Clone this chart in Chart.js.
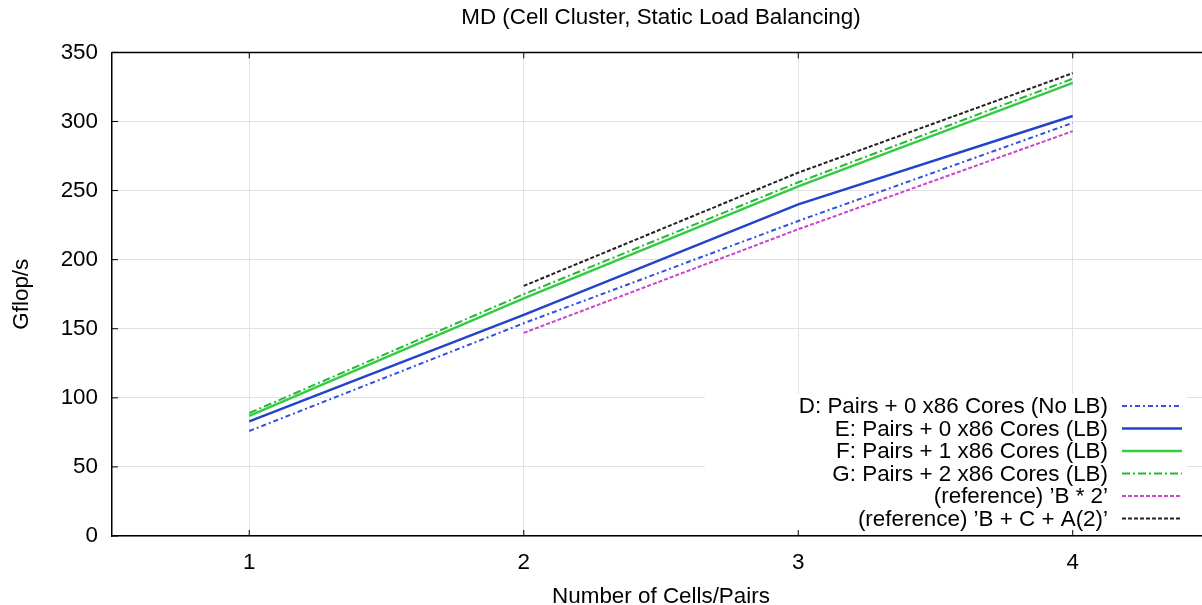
<!DOCTYPE html>
<html>
<head>
<meta charset="utf-8">
<script src="https://cdn.jsdelivr.net/npm/chart.js@4"></script>
<style>
  html, body { margin: 0; padding: 0; overflow: hidden; background: #fff; }
  canvas { display: block; }
</style>
</head>
<body>
<canvas id="mdChart" width="1210" height="612"></canvas>
<script>
// data
const cells = ['1', '2', '3', '4'];
const pairsNoLB = [76, 154, 228, 299];
const pairsLB = [83, 160, 240, 304];
const pairs1x86 = [87, 172, 253, 328];
const pairs2x86 = [89, 175, 256, 331];
const refB2 = [null, 147, 222, 293];
const refBCA2 = [null, 181, 263, 335];
const yTicks = [0, 50, 100, 150, 200, 250, 300, 350];

Chart.defaults.font.family = "'Liberation Sans', Arial, sans-serif";
Chart.defaults.font.size = 22.4;
Chart.defaults.color = '#000';

// gnuplot style frame: top border, inward tick marks, legend box inside plot
const gnuplotFrame = {
    id: 'gnuplotFrame',
    afterDatasetsDraw(chart) {
        const ctx = chart.ctx;
        const area = chart.chartArea;
        const x = chart.scales.x;
        const y = chart.scales.y;
        ctx.save();

        // top border
        ctx.strokeStyle = '#000';
        ctx.lineWidth = 1.5;
        ctx.beginPath();
        ctx.moveTo(area.left, area.top);
        ctx.lineTo(area.right, area.top);
        ctx.stroke();

        // tick marks
        ctx.lineWidth = 1;
        ctx.beginPath();
        yTicks.forEach(v => {
            const py = y.getPixelForValue(v);
            ctx.moveTo(area.left, py);
            ctx.lineTo(area.left + 6, py);
        });
        cells.forEach((c, i) => {
            const px = x.getPixelForValue(i);
            ctx.moveTo(px, area.bottom);
            ctx.lineTo(px, area.bottom - 6);
            ctx.moveTo(px, area.top);
            ctx.lineTo(px, area.top + 6);
        });
        ctx.stroke();

        // legend
        ctx.fillStyle = '#fff';
        ctx.fillRect(705, 394, 482, 136);
        ctx.font = "22.4px 'Liberation Sans', Arial, sans-serif";
        ctx.textAlign = 'right';
        ctx.textBaseline = 'middle';
        chart.data.datasets.forEach((ds, i) => {
            const rowY = 406 + i * 22.5;
            ctx.fillStyle = '#000';
            ctx.fillText(ds.label, 1108, rowY + 1);
            ctx.strokeStyle = ds.borderColor;
            ctx.lineWidth = ds.borderWidth;
            ctx.setLineDash(ds.borderDash || []);
            ctx.beginPath();
            ctx.moveTo(1122, rowY);
            ctx.lineTo(1182, rowY);
            ctx.stroke();
        });
        ctx.restore();
    }
};

function series(label, data, color, width, dash) {
    return {
        label: label,
        data: data,
        borderColor: color,
        backgroundColor: color,
        borderWidth: width,
        borderDash: dash,
        pointRadius: 0,
        tension: 0,
        fill: false
    };
}

const ctx = document.getElementById('mdChart').getContext('2d');
new Chart(ctx, {
    type: 'line',
    data: {
        labels: cells,
        datasets: [
            series('D: Pairs + 0 x86 Cores (No LB)', pairsNoLB, '#3350e0', 2, [5, 3, 2, 3]),
            series('E: Pairs + 0 x86 Cores (LB)', pairsLB, '#2244cc', 2.5, []),
            series('F: Pairs + 1 x86 Cores (LB)', pairs1x86, '#33cc44', 2.5, []),
            series('G: Pairs + 2 x86 Cores (LB)', pairs2x86, '#22bb33', 2, [8, 3, 2, 3]),
            series('(reference) \u2019B * 2\u2019', refB2, '#cc44cc', 2, [4, 2]),
            series('(reference) \u2019B + C + A(2)\u2019', refBCA2, '#222222', 2, [4, 2])
        ]
    },
    options: {
        responsive: false,
        animation: false,
        layout: { padding: 0 },
        plugins: {
            legend: { display: false },
            tooltip: { enabled: false },
            title: {
                display: true,
                text: 'MD (Cell Cluster, Static Load Balancing)',
                fullSize: false,
                font: { size: 22.4, weight: 'normal', lineHeight: 1 },
                padding: { top: 6.5, bottom: 23.5 }
            }
        },
        scales: {
            x: {
                type: 'category',
                offset: true,
                grid: { offset: false, color: '#e2e2e2', drawTicks: false },
                border: { color: '#000', width: 1.5 },
                ticks: { padding: 13 },
                title: {
                    display: true,
                    text: 'Number of Cells/Pairs',
                    font: { size: 22.4, lineHeight: 1 },
                    padding: { top: 0, bottom: 4 }
                },
                afterFit(scale) { scale.height = 76; }
            },
            y: {
                min: 0,
                max: 350,
                afterBuildTicks(scale) { scale.ticks = yTicks.map(v => ({ value: v })); },
                grid: { color: '#e2e2e2', drawTicks: false },
                border: { color: '#000', width: 1.5 },
                ticks: { padding: 14 },
                title: {
                    display: true,
                    text: 'Gflop/s',
                    font: { size: 22.4, lineHeight: 1 },
                    padding: { top: 11, bottom: 0 }
                },
                afterFit(scale) { scale.width = 112; }
            }
        }
    },
    plugins: [gnuplotFrame]
});
</script>
</body>
</html>
